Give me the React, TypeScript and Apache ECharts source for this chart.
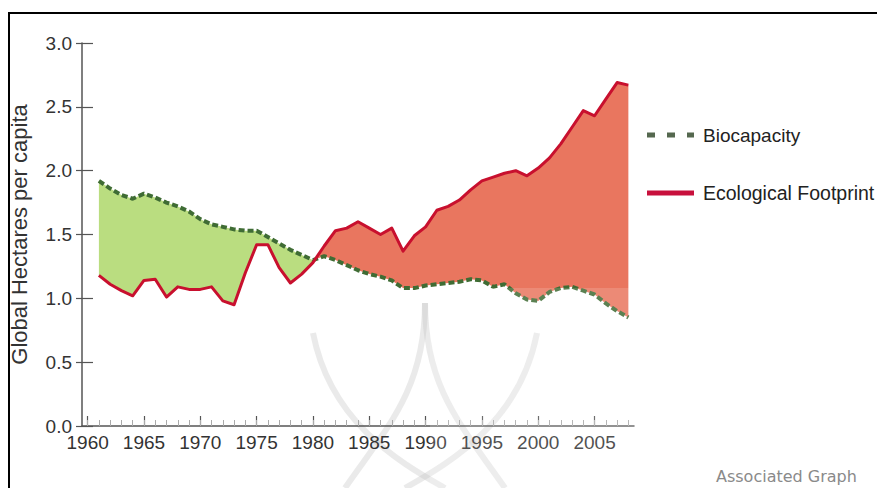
import React, { useEffect, useRef } from "react";
import * as echarts from "echarts";

// Ecological Footprint and Biocapacity, global hectares per capita, 1961-2008
const footprint = [
  1.18, 1.11, 1.06, 1.02, 1.14, 1.15, 1.01, 1.09, 1.07, 1.07,
  1.09, 0.98, 0.95, 1.2, 1.42, 1.42, 1.24, 1.12, 1.19, 1.28,
  1.41, 1.53, 1.55, 1.6, 1.55, 1.5, 1.55, 1.37, 1.49, 1.56,
  1.69, 1.72, 1.77, 1.85, 1.92, 1.95, 1.98, 2.0, 1.96, 2.02,
  2.1, 2.21, 2.34, 2.47, 2.43, 2.56, 2.69, 2.67,
];
const biocapacity = [
  1.92, 1.86, 1.81, 1.78, 1.82, 1.79, 1.75, 1.72, 1.68, 1.62,
  1.58, 1.56, 1.54, 1.53, 1.53, 1.48, 1.43, 1.38, 1.34, 1.3,
  1.33, 1.3, 1.26, 1.22, 1.19, 1.17, 1.14, 1.08, 1.08, 1.1,
  1.11, 1.12, 1.13, 1.15, 1.14, 1.09, 1.11, 1.04, 0.99, 0.98,
  1.05, 1.08, 1.09, 1.06, 1.03, 0.96, 0.9, 0.85,
];
const firstYear = 1961;
const years = footprint.map((_, i) => firstYear + i);
const majorTickYears = [1960, 1965, 1970, 1975, 1980, 1985, 1990, 1995, 2000, 2005];
const minorTickYears = Array.from({ length: 49 }, (_, i) => 1960 + i);
const legendNames = ["Biocapacity", "Ecological Footprint"];
const yAxisTitle = "Global Hectares per capita";
const footerText = "Associated Graph";

const GREEN_FILL = "#badd80";
const RED_FILL = "#e9765f";
const BIO_LINE = "#3f6c34";
const FOOT_LINE = "#c8102e";
const FONT = "Liberation Sans, Arial, sans-serif";

export default function App() {
  const ref = useRef<HTMLDivElement>(null);

  useEffect(() => {
    if (!ref.current) return;
    const chart = echarts.init(ref.current, null, { renderer: "svg" });

    const renderFill = (_params: any, api: any) => {
      const nodes: { x: number; b: number; f: number; cross?: boolean }[] = [];
      for (let i = 0; i < years.length; i++) {
        nodes.push({ x: years[i], b: biocapacity[i], f: footprint[i] });
        if (i < years.length - 1) {
          const d0 = biocapacity[i] - footprint[i];
          const d1 = biocapacity[i + 1] - footprint[i + 1];
          if (d0 * d1 < 0) {
            const t = d0 / (d0 - d1);
            const x = years[i] + t * (years[i + 1] - years[i]);
            const v = biocapacity[i] + t * (biocapacity[i + 1] - biocapacity[i]);
            nodes.push({ x, b: v, f: v, cross: true });
          }
        }
      }
      const children: any[] = [];
      const flush = (run: typeof nodes, sign: number) => {
        const top = run.map((n) => api.coord([n.x, n.b]));
        const bot = run
          .slice()
          .reverse()
          .map((n) => api.coord([n.x, n.f]));
        children.push({
          type: "polygon",
          shape: { points: top.concat(bot) },
          style: { fill: sign > 0 ? GREEN_FILL : RED_FILL },
        });
      };
      let run = [nodes[0]];
      let sign = Math.sign(nodes[0].b - nodes[0].f) || 1;
      for (let k = 1; k < nodes.length; k++) {
        const n = nodes[k];
        run.push(n);
        if (n.cross) {
          flush(run, sign);
          run = [n];
          sign = -sign;
        }
      }
      flush(run, sign);
      return { type: "group", children };
    };

    const wm = { stroke: "#c4c4c4", lineWidth: 6, opacity: 0.35, fill: "none" };

    chart.setOption({
      animation: false,
      backgroundColor: "#ffffff",
      grid: { left: 82, top: 43, width: 552, height: 383, containLabel: false },
      xAxis: [
        {
          type: "value",
          min: 1959.5,
          max: 2008.5,
          position: "bottom",
          axisLine: { show: true, onZero: false, lineStyle: { color: "#555", width: 1.5 } },
          axisTick: {
            show: true,
            inside: true,
            length: 10,
            customValues: majorTickYears,
            lineStyle: { color: "#555", width: 1.2 },
          },
          axisLabel: {
            show: true,
            customValues: majorTickYears,
            formatter: (v: number) => String(Math.round(v)),
            fontSize: 19,
            fontFamily: FONT,
            color: "#333",
            margin: 7,
          },
          splitLine: { show: false },
        },
        {
          type: "value",
          min: 1959.5,
          max: 2008.5,
          position: "bottom",
          axisLine: { show: false, onZero: false },
          axisTick: {
            show: true,
            inside: true,
            length: 6,
            customValues: minorTickYears,
            lineStyle: { color: "#aaa", width: 1 },
          },
          axisLabel: { show: false },
          splitLine: { show: false },
        },
      ],
      yAxis: [
        {
          type: "value",
          min: 0,
          max: 3,
          interval: 0.5,
          name: yAxisTitle,
          nameLocation: "middle",
          nameGap: 52,
          nameTextStyle: { fontSize: 22, fontFamily: FONT, color: "#333" },
          axisLine: { show: true, lineStyle: { color: "#555", width: 1.5 } },
          axisTick: { show: true, inside: true, length: 11, lineStyle: { color: "#555", width: 1.2 } },
          axisLabel: {
            formatter: (v: number) => v.toFixed(1),
            fontSize: 19,
            fontFamily: FONT,
            color: "#333",
            margin: 10,
          },
          splitLine: { show: false },
        },
        {
          type: "value",
          min: 0,
          max: 3,
          interval: 0.5,
          position: "left",
          axisLine: { show: false },
          axisTick: { show: true, inside: false, length: 6, lineStyle: { color: "#555", width: 1.2 } },
          axisLabel: { show: false },
          splitLine: { show: false },
        },
      ],
      series: [
        {
          type: "custom",
          name: "gap",
          xAxisIndex: 0,
          yAxisIndex: 0,
          data: [[1980, 1]],
          renderItem: renderFill,
          silent: true,
          z: 1,
        },
        {
          type: "line",
          name: legendNames[0],
          xAxisIndex: 0,
          yAxisIndex: 0,
          data: years.map((y, i) => [y, biocapacity[i]]),
          symbol: "none",
          lineStyle: { color: BIO_LINE, width: 4, type: [6, 3] },
          z: 3,
        },
        {
          type: "line",
          name: legendNames[1],
          xAxisIndex: 0,
          yAxisIndex: 0,
          data: years.map((y, i) => [y, footprint[i]]),
          symbol: "none",
          lineStyle: { color: FOOT_LINE, width: 3, join: "round" },
          z: 4,
        },
      ],
      graphic: [
        // faint watermark
        { type: "bezierCurve", z: 0, shape: { x1: 425, y1: 303, cpx1: 425, cpy1: 390, cpx2: 385, cpy2: 430, x2: 345, y2: 488 }, style: wm, silent: true },
        { type: "bezierCurve", z: 0, shape: { x1: 425, y1: 303, cpx1: 425, cpy1: 390, cpx2: 465, cpy2: 430, x2: 505, y2: 488 }, style: wm, silent: true },
        { type: "bezierCurve", z: 0, shape: { x1: 313, y1: 333, cpx1: 330, cpy1: 420, cpx2: 395, cpy2: 460, x2: 445, y2: 488 }, style: wm, silent: true },
        { type: "bezierCurve", z: 0, shape: { x1: 537, y1: 333, cpx1: 520, cpy1: 420, cpx2: 455, cpy2: 460, x2: 405, y2: 488 }, style: wm, silent: true },
        // light overlay band
        {
          type: "rect",
          z: 50,
          silent: true,
          shape: { x: 430, y: 288, width: 205, height: 200 },
          style: { fill: "rgba(255,255,255,0.15)" },
        },
        // frame
        {
          type: "rect",
          z: 100,
          silent: true,
          shape: { x: 9, y: 13, width: 1000, height: 1000 },
          style: { fill: "none", stroke: "#000", lineWidth: 2 },
        },
        // legend
        {
          type: "line",
          z: 100,
          shape: { x1: 647, y1: 135, x2: 694, y2: 135 },
          style: { stroke: "#55684f", lineWidth: 5, lineDash: [8, 12] },
        },
        {
          type: "text",
          z: 100,
          x: 703,
          y: 135,
          style: {
            text: legendNames[0],
            fontSize: 19,
            fontFamily: FONT,
            fill: "#222",
            verticalAlign: "middle",
            align: "left",
          },
        },
        {
          type: "line",
          z: 100,
          shape: { x1: 647, y1: 193, x2: 694, y2: 193 },
          style: { stroke: "#c8103c", lineWidth: 5 },
        },
        {
          type: "text",
          z: 100,
          x: 703,
          y: 193,
          style: {
            text: legendNames[1],
            fontSize: 19.5,
            fontFamily: FONT,
            fill: "#222",
            verticalAlign: "middle",
            align: "left",
          },
        },
        {
          type: "text",
          z: 100,
          x: 716,
          y: 476,
          style: {
            text: footerText,
            fontSize: 16,
            fontFamily: "DejaVu Sans, Verdana, sans-serif",
            fill: "#8a8a8a",
            verticalAlign: "middle",
            align: "left",
          },
        },
      ],
    });

    return () => chart.dispose();
  }, []);

  return (
    <div
      ref={ref}
      style={{ position: "absolute", left: 0, top: 0, width: 877, height: 488, background: "#fff" }}
    />
  );
}
